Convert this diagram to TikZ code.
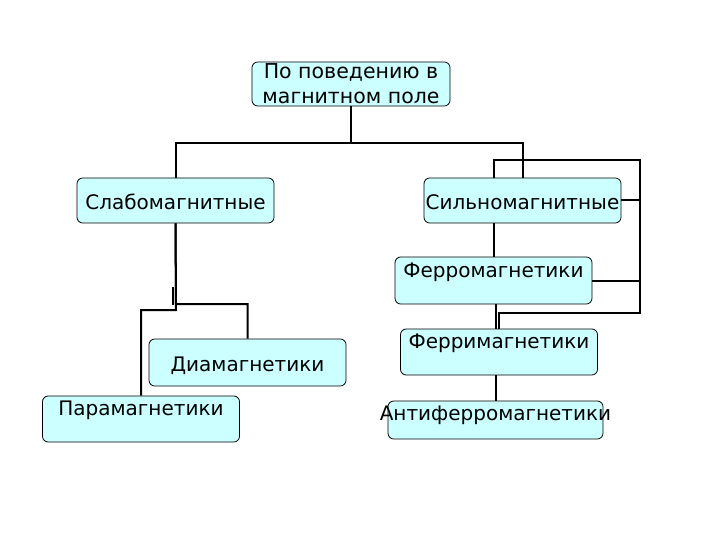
\documentclass[tikz,border=0pt]{standalone}
\usepackage{fontspec}
\setmainfont{DejaVu Sans}
\usepackage{tikz}
\usetikzlibrary{positioning}
\definecolor{magpaper}{HTML}{CCFFFF}
\definecolor{magline}{HTML}{000000}

\begin{document}
\begin{tikzpicture}[
  x=1pt, y=-1pt,
  box/.style={draw=magline, line width=0.8pt, rounded corners=2mm, fill=magpaper, inner xsep=0pt, inner ysep=0pt, anchor=base, minimum width=197pt, font=\fontsize{20}{23}\selectfont},
  link/.style={draw=magline, line width=2pt}
]
\useasboundingbox (0,0) rectangle (720,540);

\node[box, anchor=center, align=center, minimum width=198pt, minimum height=44pt, font=\fontsize{20.5}{25}\selectfont] (top) at (351,84) {По поведению в\\магнитном поле};
\node[box, text height=32pt, text depth=13pt] (slab) at (175.5,210) {Слабомагнитные};
\node[box, text height=32pt, text depth=13pt] (silno) at (522.5,210) {Сильномагнитные};
\node[box, text height=20pt, text depth=27pt] (ferro) at (493.5,277) {Ферромагнетики};
\node[box, text height=19pt, text depth=27pt] (ferri) at (499,348) {Ферримагнетики};
\node[box, text height=19pt, text depth=19pt, minimum width=215pt] (antiferro) at (495.5,420) {\makebox[0pt]{Антиферромагнетики}};
\node[box, text height=32pt, text depth=15pt] (dia) at (247.5,371) {Диамагнетики};
\node[box, text height=19pt, text depth=27pt] (para) at (141,415) {Парамагнетики};

\coordinate (hub) at (351,143);
\coordinate (frametop) at (640,160);
\coordinate (framebot) at (640,313);
\coordinate (diasplit) at (176,304);
\coordinate (parasplit) at (176,310);
\coordinate (tickup) at (173,287);
\coordinate (tickdown) at (173,305);

\draw[link] (top.south) -- (hub);
\draw[link] (slab.north) |- (hub) -| (silno.north);
\draw[link] (slab.south) -- (diasplit) -| (dia.north);
\draw[link] (slab.south) -- (parasplit) -| (para.north);
\draw[link] (tickup) -- (tickdown);
\draw[link] (silno.south -| ferro.north) -- (ferro.north);
\draw[link] (silno.north -| ferro.north) |- (frametop) -- (framebot) -| (ferri.north);
\draw[link] (silno.east) -- (silno.east -| frametop);
\draw[link] (ferro.east) -- (ferro.east -| frametop);
\draw[link] ([xshift=-3pt]ferri.north) -- ([xshift=-3pt]ferri.north |- ferro.south);
\draw[link] (antiferro.north) -- (antiferro.north |- ferri.south);
\end{tikzpicture}
\end{document}
